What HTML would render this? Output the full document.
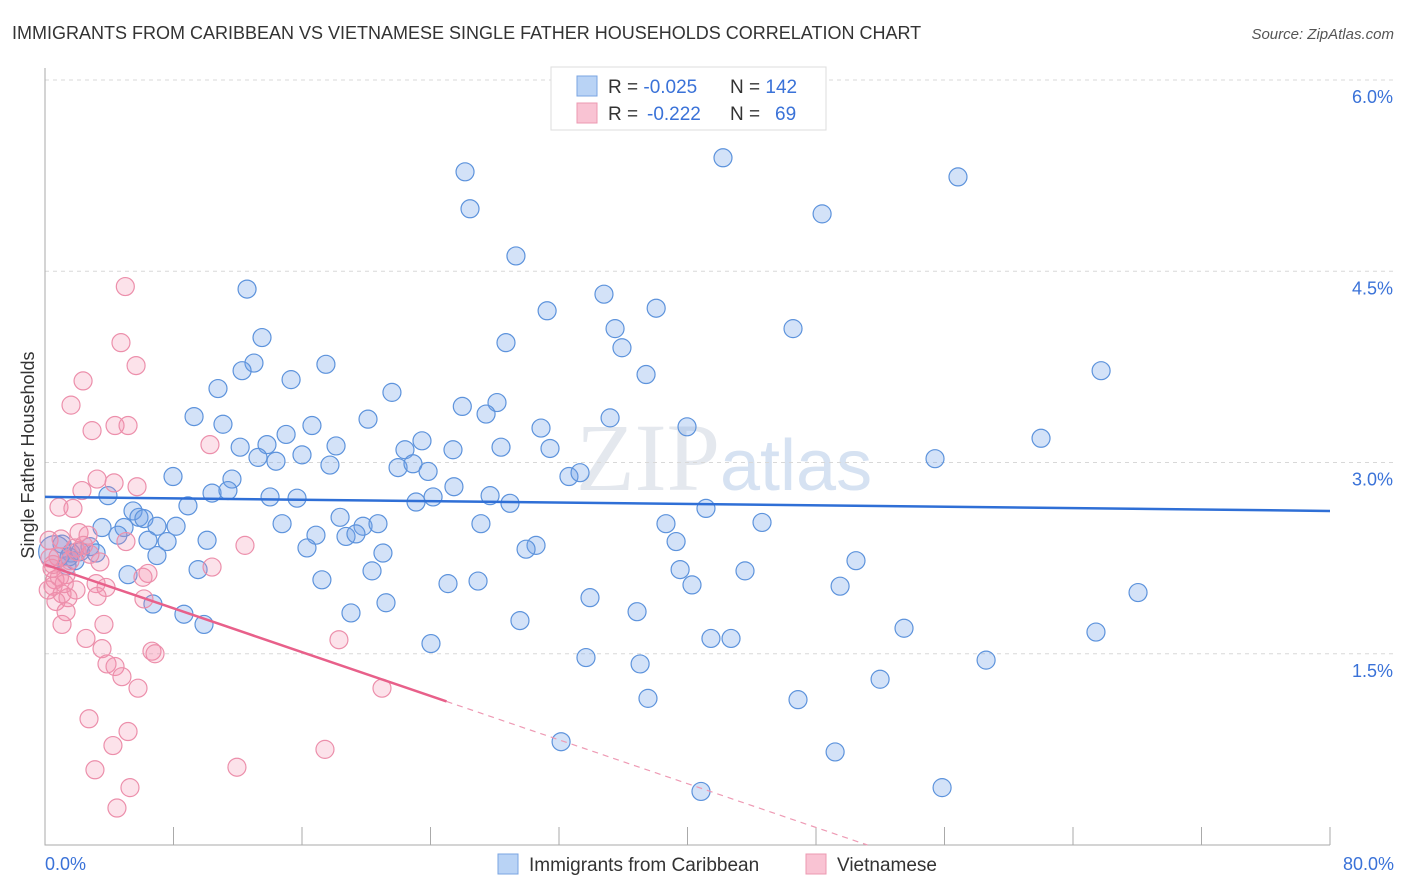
<!DOCTYPE html>
<html><head><meta charset="utf-8"><style>
body{margin:0;background:#fff;font-family:"Liberation Sans",sans-serif;}
svg{display:block}
</style></head><body>
<svg id="chart" width="1406" height="892" viewBox="0 0 1406 892" xmlns="http://www.w3.org/2000/svg">
<text x="12" y="39" font-size="18" fill="#333">IMMIGRANTS FROM CARIBBEAN VS VIETNAMESE SINGLE FATHER HOUSEHOLDS CORRELATION CHART</text>
<text x="1394" y="39" font-size="15" fill="#555" font-style="italic" text-anchor="end">Source: ZipAtlas.com</text>
<text x="720" y="490" font-size="96" fill="#e4e8ee" font-family="Liberation Serif,serif" text-anchor="end">ZIP</text>
<text x="720" y="490" font-size="72" fill="#d6e2f2" text-anchor="start">atlas</text>
<g id="grid"></g>
<g id="axes"></g>
<g id="pts"></g>
<g id="trend"></g>
<text transform="translate(34,455) rotate(-90)" font-size="18" fill="#333" text-anchor="middle">Single Father Households</text>
<text x="45" y="870" font-size="18" fill="#3a72d8">0.0%</text>
<text x="1394" y="870" font-size="18" fill="#3a72d8" text-anchor="end">80.0%</text>
<g>
<rect x="551" y="67" width="275" height="63" fill="#fff" stroke="#ddd"/>
<rect x="577" y="76" width="20" height="20" fill="#b9d3f5" stroke="#7aa5e2"/>
<rect x="577" y="103" width="20" height="20" fill="#f9c3d3" stroke="#ec98b2"/>
<text x="608" y="93" font-size="19" fill="#333">R = <tspan fill="#3a72d8">-0.025</tspan><tspan x="730">N = </tspan><tspan fill="#3a72d8">142</tspan></text>
<text x="608" y="120" font-size="19" fill="#333">R = <tspan fill="#3a72d8" x="647">-0.222</tspan><tspan x="730">N = </tspan><tspan fill="#3a72d8" x="775">69</tspan></text>
</g>
<g>
<rect x="498" y="854" width="20" height="20" fill="#b9d3f5" stroke="#7aa5e2"/>
<text x="529" y="871" font-size="19" fill="#333">Immigrants from Caribbean</text>
<rect x="806" y="854" width="20" height="20" fill="#f9c3d3" stroke="#ec98b2"/>
<text x="837" y="871" font-size="19" fill="#333">Vietnamese</text>
</g>
</svg>
<script>
const yTicks=[1.5,3.0,4.5,6.0];
const yTickLabels=["1.5%","3.0%","4.5%","6.0%"];
const xTicks=[0,8,16,24,32,40,48,56,64,72,80];
const caribX=[26.15,42.21,26.46,56.84,48.38,29.32,12.58,34.8,31.26,38.05,13.51,35.49,46.57,28.7,35.92,13.01,12.27,17.49,37.42,65.75,15.32,10.77,21.6,9.28,25.98,28.14,27.46,20.11,11.08,16.62,35.18,39.97,15.01,30.88,62.01,12.15,13.82,18.12,23.47,22.41,25.4,28.39,31.44,13.26,16.0,14.38,17.74,21.98,22.91,23.85,55.41,7.97,11.64,32.62,33.31,25.46,10.4,11.39,3.92,14.01,15.69,23.1,24.16,27.71,28.95,8.9,41.15,5.48,5.85,6.16,18.37,3.55,4.92,6.97,8.16,14.76,19.8,20.73,27.14,38.66,44.64,4.54,16.87,18.74,19.36,6.41,7.6,10.09,39.29,1.06,2.8,30.57,29.95,16.31,1.62,3.18,21.04,6.97,1.87,50.49,1.37,9.53,39.54,20.36,43.58,5.17,17.24,25.09,26.96,40.28,49.5,68.05,33.93,21.23,6.72,8.65,19.05,36.86,29.57,9.9,53.48,65.43,41.46,42.71,24.03,33.68,58.59,37.05,51.99,37.54,46.88,32.13,49.19,40.84,55.85,0.6,1.5,2.2];
const caribY=[5.28,5.39,4.99,5.24,4.95,4.62,4.36,4.32,4.19,4.21,3.98,4.05,4.05,3.94,3.9,3.78,3.72,3.77,3.69,3.72,3.65,3.58,3.55,3.36,3.44,3.47,3.38,3.34,3.3,3.29,3.35,3.28,3.22,3.27,3.19,3.12,3.14,3.13,3.17,3.1,3.1,3.12,3.11,3.04,3.06,3.01,2.98,2.96,2.99,2.93,3.03,2.89,2.87,2.89,2.92,2.81,2.76,2.78,2.74,2.73,2.72,2.69,2.73,2.74,2.68,2.66,2.64,2.62,2.57,2.56,2.57,2.49,2.49,2.5,2.5,2.52,2.5,2.52,2.52,2.52,2.53,2.43,2.43,2.42,2.44,2.39,2.38,2.39,2.38,2.36,2.34,2.35,2.32,2.33,2.29,2.29,2.29,2.27,2.23,2.23,2.19,2.16,2.16,2.15,2.15,2.12,2.08,2.05,2.07,2.04,2.03,1.98,1.94,1.9,1.89,1.81,1.82,1.83,1.76,1.73,1.7,1.67,1.62,1.62,1.58,1.47,1.45,1.42,1.3,1.15,1.14,0.81,0.73,0.42,0.45,2.3,2.26,2.3];
const vietX=[5.0,4.73,5.67,2.37,1.62,10.27,2.93,4.36,5.17,3.24,2.3,4.3,5.73,0.87,1.74,2.12,2.68,0.25,5.04,12.45,1.87,0.81,3.42,0.44,1.31,6.41,6.1,10.4,0.62,3.18,0.5,1.93,1.06,3.8,1.43,3.24,6.16,0.68,1.31,1.06,3.67,2.55,18.3,3.55,6.66,6.85,3.86,4.36,4.79,5.79,20.98,2.74,5.17,17.43,4.23,11.95,3.11,5.29,4.48,1.56,0.3,0.9,2.0,1.2,0.5,2.8,1.0,0.2,2.4];
const vietY=[4.38,3.94,3.76,3.64,3.45,3.14,3.25,3.29,3.29,2.87,2.78,2.84,2.81,2.65,2.64,2.45,2.43,2.39,2.38,2.35,2.33,2.26,2.22,2.17,2.12,2.13,2.1,2.18,2.08,2.05,2.03,2.0,1.97,2.02,1.94,1.95,1.93,1.91,1.83,1.73,1.73,1.62,1.61,1.54,1.52,1.5,1.42,1.4,1.32,1.23,1.23,0.99,0.89,0.75,0.78,0.61,0.59,0.45,0.29,2.23,2.25,2.1,2.3,2.05,2.2,2.28,2.4,2.0,2.35];
const caribTrend=[2.73,2.62];
const vietTrend=[2.2,0.0];
const vietSolidEnd=25.0, vietDashEnd=51.2;
const NS="http://www.w3.org/2000/svg";
const X0=45,X1=1330,Y0=845,Y6=80;
const sx=v=>X0+(X1-X0)*v/80;
const sy=v=>Y0-(Y0-Y6)*v/6;
function mk(tag,attrs,parent){const e=document.createElementNS(NS,tag);for(const k in attrs)e.setAttribute(k,attrs[k]);parent.appendChild(e);return e;}
const grid=document.getElementById('grid'),axes=document.getElementById('axes'),pts=document.getElementById('pts'),trend=document.getElementById('trend');
yTicks.forEach((t,i)=>{
 const l=mk('line',{x1:X0,x2:1394,y1:sy(t),y2:sy(t),stroke:'#d8d8d8','stroke-dasharray':'4 4'},grid);
 
 
 const tx=mk('text',{x:1393,y:sy(t)+23,'font-size':18,fill:'#3a72d8','text-anchor':'end'},grid);
 tx.textContent=yTickLabels[i];
 
 
});
const ax=mk('path',{d:`M${X0} 68 V${Y0} H${X1}`,stroke:'#aaa',fill:'none'},axes);


xTicks.forEach(t=>{
 const l=mk('line',{x1:sx(t),x2:sx(t),y1:Y0,y2:Y0-18,stroke:'#aaa'},axes);
 
 
});
caribX.forEach((v,i)=>{
 const big=i===caribX.length-3;
 const c=mk('circle',{cx:sx(v),cy:sy(caribY[i]),r:big?16:9,fill:'rgba(110,160,232,0.3)',stroke:'#5d93dc','stroke-width':1.2},pts);
 
 
});
vietX.forEach((v,i)=>{
 const c=mk('circle',{cx:sx(v),cy:sy(vietY[i]),r:9,fill:'rgba(242,140,170,0.25)',stroke:'#ec8fab','stroke-width':1.2},pts);
 
 
});
const ct=mk('line',{x1:sx(0),y1:sy(caribTrend[0]),x2:sx(80),y2:sy(caribTrend[1]),stroke:'#2f6fd6','stroke-width':2.5},trend);


const vy=x=>vietTrend[0]+(vietTrend[1]-vietTrend[0])*x/vietDashEnd;
const vt=mk('line',{x1:sx(0),y1:sy(vy(0)),x2:sx(vietSolidEnd),y2:sy(vy(vietSolidEnd)),stroke:'#e8608a','stroke-width':2.5},trend);


const vd=mk('line',{x1:sx(vietSolidEnd),y1:sy(vy(vietSolidEnd)),x2:sx(vietDashEnd),y2:sy(vy(vietDashEnd)),stroke:'#ee9ab4','stroke-width':1.2,'stroke-dasharray':'6 5'},trend);


</script>
</body></html>
